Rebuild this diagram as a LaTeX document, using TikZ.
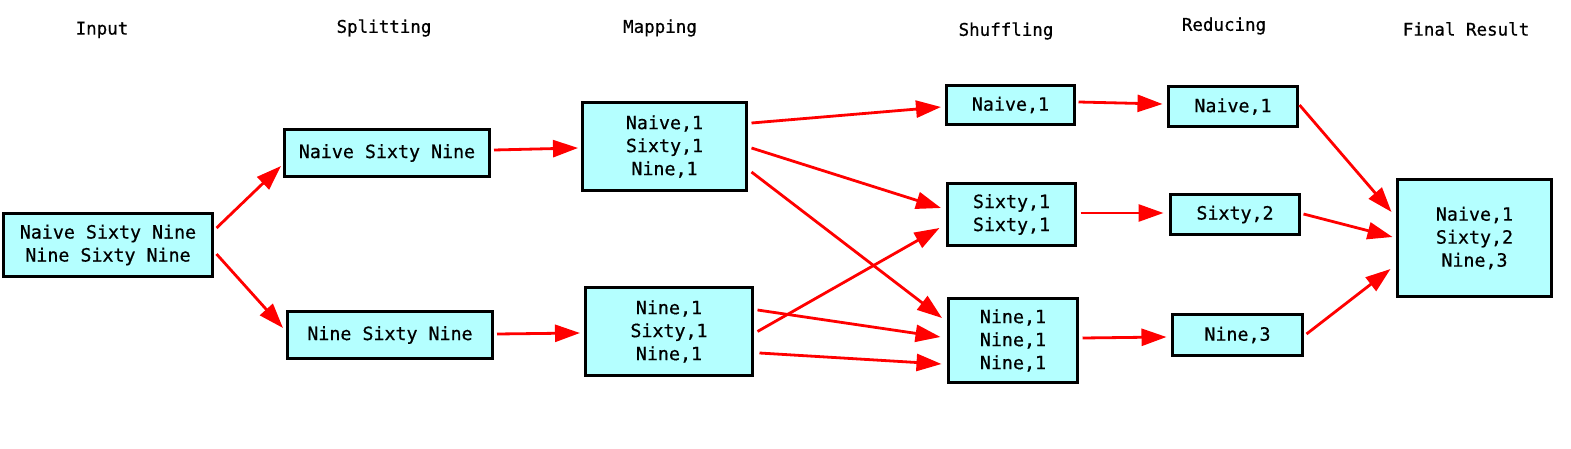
\documentclass[tikz,border=0pt]{standalone}
\usepackage{fontspec}
\setmonofont[FakeBold=0.6]{DejaVu Sans Mono}
\usetikzlibrary{arrows.meta,calc}
\definecolor{boxfill}{RGB}{180,255,255}
\definecolor{arrred}{RGB}{255,0,0}
\begin{document}
\begin{tikzpicture}[x=1pt,y=-1pt,
  box/.style={draw=black,line width=3pt,fill=boxfill,align=center,inner sep=0pt,
    font=\ttfamily\fontsize{18.3}{23}\selectfont},
  hdr/.style={font=\ttfamily\fontsize{17.5}{21}\selectfont,inner sep=0pt},
  arr/.style={draw=arrred,line width=2.8pt,-{Triangle[length=25pt,width=17pt]}}]
\useasboundingbox (0,0) rectangle (1571,449);
% headers
\node[hdr] (hin) at (102,30) {Input};
\node[hdr] (hsp) at (384,28) {Splitting};
\node[hdr] (hmp) at (660,28) {Mapping};
\node[hdr] (hsh) at (1006,31) {Shuffling};
\node[hdr] (hre) at (1224,26) {Reducing};
\node[hdr] (hfr) at (1466,29) {Final Result};
% boxes
\node[box,minimum width=209pt,minimum height=63pt] (in) at (108,245) {Naive Sixty Nine\\Nine Sixty Nine};
\node[box,minimum width=205pt,minimum height=47pt] (s1) at (387,153) {Naive Sixty Nine};
\node[box,minimum width=205pt,minimum height=47pt] (s2) at (390,335) {Nine Sixty Nine};
\node[box,minimum width=164pt,minimum height=88pt] (m1) at (664.5,146.5) {Naive,1\\Sixty,1\\Nine,1};
\node[box,minimum width=167pt,minimum height=88pt] (m2) at (669,331.5) {Nine,1\\Sixty,1\\Nine,1};
\node[box,minimum width=128pt,minimum height=39pt] (h1) at (1010.5,105) {Naive,1};
\node[box,minimum width=128pt,minimum height=62pt] (h2) at (1011.5,214.5) {Sixty,1\\Sixty,1};
\node[box,minimum width=129pt,minimum height=84pt] (h3) at (1013,340.5) {Nine,1\\Nine,1\\Nine,1};
\node[box,minimum width=129pt,minimum height=40pt] (r1) at (1233,106.5) {Naive,1};
\node[box,minimum width=129pt,minimum height=40pt] (r2) at (1235,214.5) {Sixty,2};
\node[box,minimum width=130pt,minimum height=41pt] (r3) at (1237.5,335) {Nine,3};
\node[box,minimum width=154pt,minimum height=117pt] (f) at (1474.5,238) {Naive,1\\Sixty,2\\Nine,3};
% arrows
\draw[arr] ($(in.east)+(2.5,-17)$) -- ($(s1.west)+(-2,13)$);
\draw[arr] ($(in.east)+(2.5,9)$) -- ($(s2.west)+(-3,-7)$);
\draw[arr] ($(s1.east)+(3,-3)$) -- ($(m1.west)+(-3,1.5)$);
\draw[arr] ($(s2.east)+(3,-1)$) -- ($(m2.west)+(-4,1.5)$);
\draw[arr] ($(m1.east)+(3.5,-23.5)$) -- ($(h1.west)+(-4,2)$);
\draw[arr] ($(m1.east)+(3.5,1.5)$) -- ($(h2.west)+(-5,-6.5)$);
\draw[arr] ($(m1.east)+(3.5,25.5)$) -- ($(h3.west)+(-5,-22.5)$);
\draw[arr] ($(m2.east)+(3.5,0)$) -- ($(h2.west)+(-6.5,13.5)$);
\draw[arr] ($(m2.east)+(3.5,-21.5)$) -- ($(h3.west)+(-6.5,-3.5)$);
\draw[arr] ($(m2.east)+(5.5,21.5)$) -- ($(h3.west)+(-5.5,23.5)$);
\draw[arr] ($(h1.east)+(2.5,-3)$) -- ($(r1.west)+(-4.5,-2.5)$);
\draw[arr] ($(h2.east)+(3.5,-1.5)$) -- ($(r2.west)+(-5.5,-1.5)$);
\draw[arr] ($(h3.east)+(3.5,-2.5)$) -- ($(r3.west)+(-4.5,2)$);
\draw[arr] ($(r1.east)+(0.5,-1.5)$) -- ($(f.west)+(-4.5,-26)$);
\draw[arr] ($(r2.east)+(2.5,-0.5)$) -- ($(f.west)+(-3.5,-1)$);
\draw[arr] ($(r3.east)+(2.5,-1)$) -- ($(f.west)+(-5.5,31)$);
\end{tikzpicture}
\end{document}
